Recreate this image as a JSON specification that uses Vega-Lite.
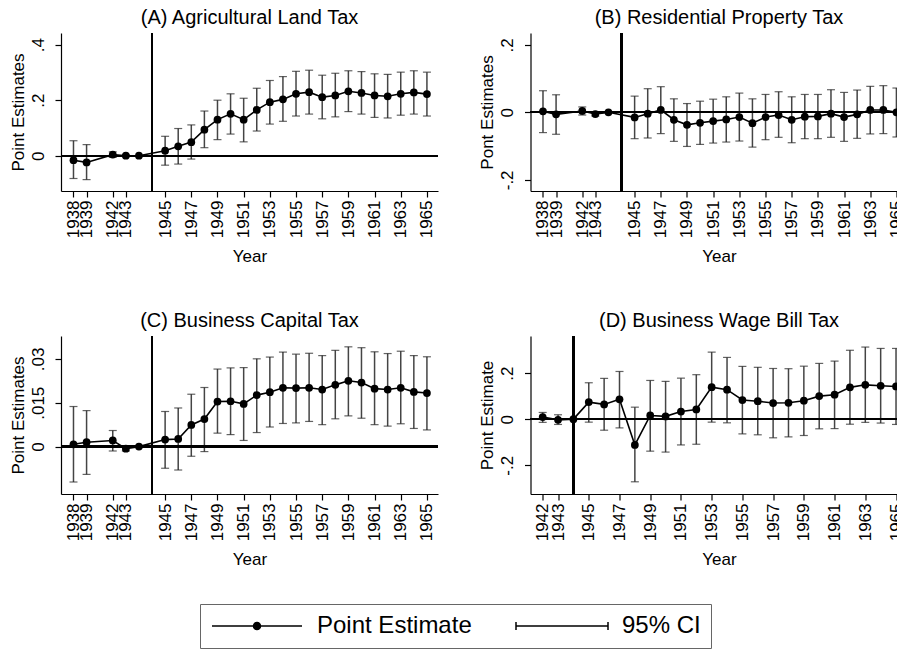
{
  "$schema": "https://vega.github.io/schema/vega-lite/v6.json",
  "background": "white",
  "padding": {"left": 8, "top": 8, "right": 0, "bottom": 0},
  "columns": 2,
  "spacing": {"row": 46, "column": 39.5},
  "config": {
    "font": "Liberation Sans",
    "view": {"stroke": null},
    "axis": {"grid": false, "domainColor": "black", "domainWidth": 1.2, "tickColor": "black", "tickSize": 6, "tickWidth": 1.2, "labelFontSize": 17, "titleFontSize": 17, "titleFontWeight": "normal", "labelColor": "black", "titleColor": "black", "labelFont": "Liberation Sans", "titleFont": "Liberation Sans"},
    "axisX": {"labelAngle": -90, "labelAlign": "right", "labelBaseline": "middle", "labelPadding": 3, "titlePadding": 11, "labelOverlap": false},
    "axisY": {"labelAngle": -90, "labelAlign": "center", "labelBaseline": "bottom", "labelPadding": 8, "titlePadding": 2},
    "title": {"fontSize": 20, "fontWeight": "normal", "font": "Liberation Sans", "color": "black", "offset": 4, "baseline": "bottom", "anchor": "middle", "frame": "group"}
  },
  "datasets": {
    "A": [
      {"year": 1938, "est": -0.016, "lo": -0.082, "hi": 0.054},
      {"year": 1939, "est": -0.024, "lo": -0.086, "hi": 0.040},
      {"year": 1942, "est": 0.004, "lo": -0.006, "hi": 0.014},
      {"year": 1943, "est": 0.000, "lo": -0.003, "hi": 0.003},
      {"year": 1944, "est": 0},
      {"year": 1945, "est": 0.018, "lo": -0.034, "hi": 0.070},
      {"year": 1946, "est": 0.034, "lo": -0.030, "hi": 0.098},
      {"year": 1947, "est": 0.049, "lo": -0.012, "hi": 0.111},
      {"year": 1948, "est": 0.094, "lo": 0.029, "hi": 0.161},
      {"year": 1949, "est": 0.130, "lo": 0.058, "hi": 0.200},
      {"year": 1950, "est": 0.151, "lo": 0.078, "hi": 0.223},
      {"year": 1951, "est": 0.130, "lo": 0.050, "hi": 0.207},
      {"year": 1952, "est": 0.165, "lo": 0.089, "hi": 0.243},
      {"year": 1953, "est": 0.193, "lo": 0.114, "hi": 0.271},
      {"year": 1954, "est": 0.203, "lo": 0.124, "hi": 0.285},
      {"year": 1955, "est": 0.223, "lo": 0.143, "hi": 0.304},
      {"year": 1956, "est": 0.229, "lo": 0.150, "hi": 0.308},
      {"year": 1957, "est": 0.211, "lo": 0.133, "hi": 0.290},
      {"year": 1958, "est": 0.217, "lo": 0.140, "hi": 0.297},
      {"year": 1959, "est": 0.232, "lo": 0.159, "hi": 0.306},
      {"year": 1960, "est": 0.226, "lo": 0.150, "hi": 0.303},
      {"year": 1961, "est": 0.217, "lo": 0.138, "hi": 0.295},
      {"year": 1962, "est": 0.214, "lo": 0.136, "hi": 0.293},
      {"year": 1963, "est": 0.223, "lo": 0.146, "hi": 0.301},
      {"year": 1964, "est": 0.228, "lo": 0.150, "hi": 0.306},
      {"year": 1965, "est": 0.222, "lo": 0.143, "hi": 0.301}
    ],
    "B": [
      {"year": 1938, "est": 0.003, "lo": -0.060, "hi": 0.064},
      {"year": 1939, "est": -0.006, "lo": -0.065, "hi": 0.052},
      {"year": 1942, "est": 0.004, "lo": -0.008, "hi": 0.016},
      {"year": 1943, "est": -0.005, "lo": -0.011, "hi": 0.001},
      {"year": 1944, "est": 0},
      {"year": 1945, "est": -0.015, "lo": -0.078, "hi": 0.048},
      {"year": 1946, "est": -0.004, "lo": -0.076, "hi": 0.070},
      {"year": 1947, "est": 0.007, "lo": -0.063, "hi": 0.076},
      {"year": 1948, "est": -0.022, "lo": -0.086, "hi": 0.040},
      {"year": 1949, "est": -0.037, "lo": -0.101, "hi": 0.026},
      {"year": 1950, "est": -0.031, "lo": -0.095, "hi": 0.033},
      {"year": 1951, "est": -0.026, "lo": -0.091, "hi": 0.039},
      {"year": 1952, "est": -0.021, "lo": -0.088, "hi": 0.046},
      {"year": 1953, "est": -0.014, "lo": -0.085, "hi": 0.057},
      {"year": 1954, "est": -0.032, "lo": -0.103, "hi": 0.040},
      {"year": 1955, "est": -0.014, "lo": -0.081, "hi": 0.053},
      {"year": 1956, "est": -0.008, "lo": -0.074, "hi": 0.061},
      {"year": 1957, "est": -0.022, "lo": -0.090, "hi": 0.046},
      {"year": 1958, "est": -0.013, "lo": -0.078, "hi": 0.053},
      {"year": 1959, "est": -0.012, "lo": -0.078, "hi": 0.053},
      {"year": 1960, "est": -0.004, "lo": -0.074, "hi": 0.067},
      {"year": 1961, "est": -0.014, "lo": -0.086, "hi": 0.059},
      {"year": 1962, "est": -0.006, "lo": -0.077, "hi": 0.066},
      {"year": 1963, "est": 0.007, "lo": -0.064, "hi": 0.077},
      {"year": 1964, "est": 0.007, "lo": -0.063, "hi": 0.079},
      {"year": 1965, "est": 0.000, "lo": -0.073, "hi": 0.072}
    ],
    "C": [
      {"year": 1938, "est": 0.0008, "lo": -0.0121, "hi": 0.0137},
      {"year": 1939, "est": 0.0015, "lo": -0.0095, "hi": 0.0123},
      {"year": 1942, "est": 0.0021, "lo": -0.0015, "hi": 0.0055},
      {"year": 1943, "est": -0.0007, "lo": -0.0015, "hi": 0.0001},
      {"year": 1944, "est": 0},
      {"year": 1945, "est": 0.0024, "lo": -0.0074, "hi": 0.0120},
      {"year": 1946, "est": 0.0026, "lo": -0.0080, "hi": 0.0132},
      {"year": 1947, "est": 0.0074, "lo": -0.0033, "hi": 0.0179},
      {"year": 1948, "est": 0.0094, "lo": -0.0017, "hi": 0.0202},
      {"year": 1949, "est": 0.0154, "lo": 0.0046, "hi": 0.0265},
      {"year": 1950, "est": 0.0155, "lo": 0.0041, "hi": 0.0269},
      {"year": 1951, "est": 0.0146, "lo": 0.0021, "hi": 0.0270},
      {"year": 1952, "est": 0.0176, "lo": 0.0048, "hi": 0.0300},
      {"year": 1953, "est": 0.0186, "lo": 0.0067, "hi": 0.0306},
      {"year": 1954, "est": 0.0201, "lo": 0.0079, "hi": 0.0323},
      {"year": 1955, "est": 0.0200, "lo": 0.0081, "hi": 0.0316},
      {"year": 1956, "est": 0.0201, "lo": 0.0086, "hi": 0.0319},
      {"year": 1957, "est": 0.0195, "lo": 0.0075, "hi": 0.0311},
      {"year": 1958, "est": 0.0211, "lo": 0.0095, "hi": 0.0329},
      {"year": 1959, "est": 0.0225, "lo": 0.0105, "hi": 0.0341},
      {"year": 1960, "est": 0.0219, "lo": 0.0097, "hi": 0.0338},
      {"year": 1961, "est": 0.0198, "lo": 0.0075, "hi": 0.0324},
      {"year": 1962, "est": 0.0195, "lo": 0.0070, "hi": 0.0318},
      {"year": 1963, "est": 0.0201, "lo": 0.0078, "hi": 0.0326},
      {"year": 1964, "est": 0.0187, "lo": 0.0062, "hi": 0.0311},
      {"year": 1965, "est": 0.0183, "lo": 0.0057, "hi": 0.0307}
    ],
    "D": [
      {"year": 1942, "est": 0.009, "lo": -0.014, "hi": 0.029},
      {"year": 1943, "est": -0.003, "lo": -0.023, "hi": 0.019},
      {"year": 1944, "est": 0},
      {"year": 1945, "est": 0.074, "lo": -0.013, "hi": 0.158},
      {"year": 1946, "est": 0.064, "lo": -0.048, "hi": 0.177},
      {"year": 1947, "est": 0.086, "lo": -0.038, "hi": 0.207},
      {"year": 1948, "est": -0.112, "lo": -0.272, "hi": 0.052},
      {"year": 1949, "est": 0.016, "lo": -0.139, "hi": 0.168},
      {"year": 1950, "est": 0.012, "lo": -0.143, "hi": 0.164},
      {"year": 1951, "est": 0.033, "lo": -0.112, "hi": 0.178},
      {"year": 1952, "est": 0.042, "lo": -0.109, "hi": 0.193},
      {"year": 1953, "est": 0.139, "lo": -0.013, "hi": 0.291},
      {"year": 1954, "est": 0.128, "lo": -0.016, "hi": 0.268},
      {"year": 1955, "est": 0.083, "lo": -0.064, "hi": 0.229},
      {"year": 1956, "est": 0.078, "lo": -0.068, "hi": 0.225},
      {"year": 1957, "est": 0.070, "lo": -0.081, "hi": 0.220},
      {"year": 1958, "est": 0.071, "lo": -0.077, "hi": 0.219},
      {"year": 1959, "est": 0.080, "lo": -0.071, "hi": 0.230},
      {"year": 1960, "est": 0.100, "lo": -0.042, "hi": 0.242},
      {"year": 1961, "est": 0.106, "lo": -0.041, "hi": 0.252},
      {"year": 1962, "est": 0.138, "lo": -0.022, "hi": 0.299},
      {"year": 1963, "est": 0.149, "lo": -0.014, "hi": 0.313},
      {"year": 1964, "est": 0.145, "lo": -0.017, "hi": 0.307},
      {"year": 1965, "est": 0.142, "lo": -0.023, "hi": 0.307}
    ]
  },
  "concat": [
    {
      "width": 377, "height": 158,
      "title": "(A) Agricultural Land Tax",
      "data": {"name": "A"},
      "layer": [
        {"mark": {"type": "rule", "color": "#444444", "strokeWidth": 1.5},
         "encoding": {
           "x": {"field": "year", "type": "ordinal", "title": "Year",
                 "scale": {"type": "point", "domain": [1938,1939,1940,1942,1943,1944,1944.5,1945,1946,1947,1948,1949,1950,1951,1952,1953,1954,1955,1956,1957,1958,1959,1960,1961,1962,1963,1964,1965], "padding": 0.9, "align": 0.53},
                 "axis": {"values": [1938,1939,1942,1943,1945,1947,1949,1951,1953,1955,1957,1959,1961,1963,1965]}},
           "y": {"field": "lo", "type": "quantitative", "title": "Point Estimates",
                 "scale": {"domain": [-0.127, 0.442], "nice": false, "zero": false},
                 "axis": {"values": [0, 0.2, 0.4], "labelExpr": "datum.value == 0 ? '0' : replace(toString(datum.value), '0.', '.')"}},
           "y2": {"field": "hi"}}},
        {"mark": {"type": "tick", "orient": "horizontal", "color": "#222222", "size": 8, "thickness": 1.2},
         "encoding": {"x": {"field": "year", "type": "ordinal"}, "y": {"field": "lo", "type": "quantitative", "title": "Point Estimates"}}},
        {"mark": {"type": "tick", "orient": "horizontal", "color": "#222222", "size": 8, "thickness": 1.2},
         "encoding": {"x": {"field": "year", "type": "ordinal"}, "y": {"field": "hi", "type": "quantitative", "title": "Point Estimates"}}},
        {"mark": {"type": "rule", "color": "black", "strokeWidth": 1.5},
         "encoding": {"y": {"datum": 0, "type": "quantitative", "title": "Point Estimates"}}},
        {"mark": {"type": "rule", "color": "black", "strokeWidth": 1.5},
         "encoding": {"x": {"datum": 1944.5, "type": "ordinal"}}},
        {"mark": {"type": "line", "color": "black", "strokeWidth": 1.6},
         "encoding": {"x": {"field": "year", "type": "ordinal"}, "y": {"field": "est", "type": "quantitative", "title": "Point Estimates"}}},
        {"mark": {"type": "point", "filled": true, "color": "black", "size": 60, "opacity": 1},
         "encoding": {"x": {"field": "year", "type": "ordinal"}, "y": {"field": "est", "type": "quantitative", "title": "Point Estimates"}}},
        {"data": {"values": [{"series": "Point Estimate"}, {"series": "95% CI"}]},
         "transform": [{"filter": "datum.series == 'none'"}],
         "mark": {"type": "point", "filled": false, "color": "black", "strokeWidth": 1.5, "size": 100, "opacity": 1},
         "encoding": {"shape": {"field": "series", "type": "nominal",
           "scale": {"domain": ["Point Estimate", "95% CI"], "range": ["M-9,0L9,0M-0.7,0A0.7,0.7,0,1,1,0.7,0A0.7,0.7,0,1,1,-0.7,0M-0.4,0A0.4,0.4,0,1,1,0.4,0A0.4,0.4,0,1,1,-0.4,0M-0.1,0A0.1,0.1,0,1,1,0.1,0A0.1,0.1,0,1,1,-0.1,0", "M-9.2,0L9.2,0M-9.2,-0.8L-9.2,0.8M9.2,-0.8L9.2,0.8"]},
           "legend": {"title": null, "orient": "none", "legendX": 139, "legendY": 571, "direction": "horizontal", "strokeColor": "#666666", "padding": 10, "labelFontSize": 24, "labelFont": "Liberation Sans", "labelColor": "black", "labelLimit": 400, "symbolSize": 100, "symbolOffset": 35, "labelOffset": 48, "columnPadding": 41, "symbolStrokeColor": "black", "symbolStrokeWidth": 1.5}}}}
      ]
    },
    {
      "width": 377, "height": 158,
      "title": "(B) Residential Property Tax",
      "data": {"name": "B"},
      "layer": [
        {"mark": {"type": "rule", "color": "#444444", "strokeWidth": 1.5},
         "encoding": {
           "x": {"field": "year", "type": "ordinal", "title": "Year",
                 "scale": {"type": "point", "domain": [1938,1939,1940,1942,1943,1944,1944.5,1945,1946,1947,1948,1949,1950,1951,1952,1953,1954,1955,1956,1957,1958,1959,1960,1961,1962,1963,1964,1965], "padding": 0.9, "align": 0.53},
                 "axis": {"values": [1938,1939,1942,1943,1945,1947,1949,1951,1953,1955,1957,1959,1961,1963,1965]}},
           "y": {"field": "lo", "type": "quantitative", "title": "Pont Estimates",
                 "scale": {"domain": [-0.233, 0.235], "nice": false, "zero": false},
                 "axis": {"values": [-0.2, 0, 0.2], "labelExpr": "datum.value == 0 ? '0' : replace(toString(datum.value), '0.', '.')"}},
           "y2": {"field": "hi"}}},
        {"mark": {"type": "tick", "orient": "horizontal", "color": "#222222", "size": 8, "thickness": 1.2},
         "encoding": {"x": {"field": "year", "type": "ordinal"}, "y": {"field": "lo", "type": "quantitative", "title": "Pont Estimates"}}},
        {"mark": {"type": "tick", "orient": "horizontal", "color": "#222222", "size": 8, "thickness": 1.2},
         "encoding": {"x": {"field": "year", "type": "ordinal"}, "y": {"field": "hi", "type": "quantitative", "title": "Pont Estimates"}}},
        {"mark": {"type": "rule", "color": "black", "strokeWidth": 1.5},
         "encoding": {"y": {"datum": 0, "type": "quantitative", "title": "Pont Estimates"}}},
        {"mark": {"type": "rule", "color": "black", "strokeWidth": 1.5},
         "encoding": {"x": {"datum": 1944.5, "type": "ordinal"}}},
        {"mark": {"type": "line", "color": "black", "strokeWidth": 1.6},
         "encoding": {"x": {"field": "year", "type": "ordinal"}, "y": {"field": "est", "type": "quantitative", "title": "Pont Estimates"}}},
        {"mark": {"type": "point", "filled": true, "color": "black", "size": 60, "opacity": 1},
         "encoding": {"x": {"field": "year", "type": "ordinal"}, "y": {"field": "est", "type": "quantitative", "title": "Pont Estimates"}}}
      ]
    },
    {
      "width": 377, "height": 158,
      "title": "(C) Business Capital Tax",
      "data": {"name": "C"},
      "layer": [
        {"mark": {"type": "rule", "color": "#444444", "strokeWidth": 1.5},
         "encoding": {
           "x": {"field": "year", "type": "ordinal", "title": "Year",
                 "scale": {"type": "point", "domain": [1938,1939,1940,1942,1943,1944,1944.5,1945,1946,1947,1948,1949,1950,1951,1952,1953,1954,1955,1956,1957,1958,1959,1960,1961,1962,1963,1964,1965], "padding": 0.9, "align": 0.53},
                 "axis": {"values": [1938,1939,1942,1943,1945,1947,1949,1951,1953,1955,1957,1959,1961,1963,1965]}},
           "y": {"field": "lo", "type": "quantitative", "title": "Point Estimates",
                 "scale": {"domain": [-0.0162, 0.0378], "nice": false, "zero": false},
                 "axis": {"values": [0, 0.015, 0.03], "labelExpr": "datum.value == 0 ? '0' : replace(toString(datum.value), '0.', '.')"}},
           "y2": {"field": "hi"}}},
        {"mark": {"type": "tick", "orient": "horizontal", "color": "#222222", "size": 8, "thickness": 1.2},
         "encoding": {"x": {"field": "year", "type": "ordinal"}, "y": {"field": "lo", "type": "quantitative", "title": "Point Estimates"}}},
        {"mark": {"type": "tick", "orient": "horizontal", "color": "#222222", "size": 8, "thickness": 1.2},
         "encoding": {"x": {"field": "year", "type": "ordinal"}, "y": {"field": "hi", "type": "quantitative", "title": "Point Estimates"}}},
        {"mark": {"type": "rule", "color": "black", "strokeWidth": 1.5},
         "encoding": {"y": {"datum": 0, "type": "quantitative", "title": "Point Estimates"}}},
        {"mark": {"type": "rule", "color": "black", "strokeWidth": 1.5},
         "encoding": {"x": {"datum": 1944.5, "type": "ordinal"}}},
        {"mark": {"type": "line", "color": "black", "strokeWidth": 1.6},
         "encoding": {"x": {"field": "year", "type": "ordinal"}, "y": {"field": "est", "type": "quantitative", "title": "Point Estimates"}}},
        {"mark": {"type": "point", "filled": true, "color": "black", "size": 60, "opacity": 1},
         "encoding": {"x": {"field": "year", "type": "ordinal"}, "y": {"field": "est", "type": "quantitative", "title": "Point Estimates"}}}
      ]
    },
    {
      "width": 377, "height": 158,
      "title": "(D) Business Wage Bill Tax",
      "data": {"name": "D"},
      "layer": [
        {"mark": {"type": "rule", "color": "#444444", "strokeWidth": 1.5},
         "encoding": {
           "x": {"field": "year", "type": "ordinal", "title": "Year",
                 "scale": {"type": "point", "domain": [1942,1943,1944,1945,1946,1947,1948,1949,1950,1951,1952,1953,1954,1955,1956,1957,1958,1959,1960,1961,1962,1963,1964,1965], "padding": 0.77, "align": 0.515},
                 "axis": {"values": [1942,1943,1945,1947,1949,1951,1953,1955,1957,1959,1961,1963,1965]}},
           "y": {"field": "lo", "type": "quantitative", "title": "Point Estimate",
                 "scale": {"domain": [-0.325, 0.361], "nice": false, "zero": false},
                 "axis": {"values": [-0.2, 0, 0.2], "labelExpr": "datum.value == 0 ? '0' : replace(toString(datum.value), '0.', '.')"}},
           "y2": {"field": "hi"}}},
        {"mark": {"type": "tick", "orient": "horizontal", "color": "#222222", "size": 8, "thickness": 1.2},
         "encoding": {"x": {"field": "year", "type": "ordinal"}, "y": {"field": "lo", "type": "quantitative", "title": "Point Estimate"}}},
        {"mark": {"type": "tick", "orient": "horizontal", "color": "#222222", "size": 8, "thickness": 1.2},
         "encoding": {"x": {"field": "year", "type": "ordinal"}, "y": {"field": "hi", "type": "quantitative", "title": "Point Estimate"}}},
        {"mark": {"type": "rule", "color": "black", "strokeWidth": 1.5},
         "encoding": {"y": {"datum": 0, "type": "quantitative", "title": "Point Estimate"}}},
        {"mark": {"type": "rule", "color": "black", "strokeWidth": 1.5},
         "encoding": {"x": {"datum": 1944, "type": "ordinal"}}},
        {"mark": {"type": "line", "color": "black", "strokeWidth": 1.6},
         "encoding": {"x": {"field": "year", "type": "ordinal"}, "y": {"field": "est", "type": "quantitative", "title": "Point Estimate"}}},
        {"mark": {"type": "point", "filled": true, "color": "black", "size": 60, "opacity": 1},
         "encoding": {"x": {"field": "year", "type": "ordinal"}, "y": {"field": "est", "type": "quantitative", "title": "Point Estimate"}}}
      ]
    }
  ]
}
